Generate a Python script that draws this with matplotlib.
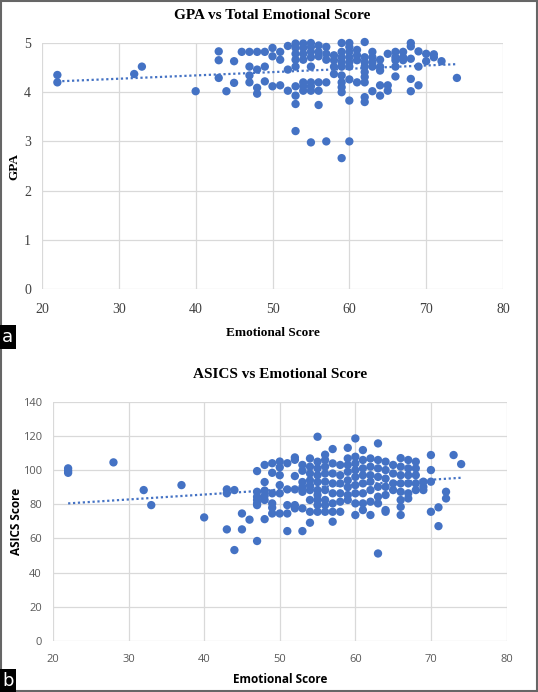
import numpy as np
import matplotlib.pyplot as plt
from matplotlib.patches import Rectangle

# --- Panel a: GPA vs Total Emotional Score ---
gpa_x = [22, 22, 32, 33, 40,
         43, 43, 43, 44, 45, 45, 46,
         47, 47, 47, 47, 48, 48, 48, 48,
         49, 49, 49, 50, 50, 50, 51, 51, 51, 52, 52, 52,
         53, 53, 53, 53, 53, 53, 53, 53, 53,
         54, 54, 54, 54, 54, 54, 54,
         55, 55, 55, 55, 55, 55, 55, 55, 55,
         56, 56, 56, 56, 56, 56,
         57, 57, 57, 57, 57,
         58, 58, 58, 58,
         59, 59, 59, 59, 59, 59, 59, 59, 59, 59,
         60, 60, 60, 60, 60, 60, 60, 60, 60,
         61, 61, 61, 61,
         62, 62, 62, 62, 62, 62, 62, 62, 62,
         63, 63, 63, 63, 63,
         64, 64, 64, 64, 64,
         65, 65, 65,
         66, 66, 66, 66, 66,
         67, 67, 67,
         68, 68, 68, 68, 68,
         69, 69, 69, 70, 70, 71, 71, 72, 74]
gpa_y = [4.35, 4.20, 4.37, 4.52, 4.02,
         4.83, 4.65, 4.29, 4.02, 4.63, 4.19, 4.82,
         4.82, 4.52, 4.34, 4.20, 4.82, 4.46, 4.09, 3.97,
         4.82, 4.52, 4.22, 4.90, 4.73, 4.12, 4.82, 4.66, 4.14, 4.94, 4.46, 4.03,
         4.99, 4.90, 4.78, 4.66, 4.52, 4.12, 3.93, 3.76, 3.21,
         4.99, 4.90, 4.78, 4.66, 4.20, 4.12, 4.03,
         5.00, 4.92, 4.82, 4.71, 4.52, 4.20, 4.12, 4.03, 2.98,
         4.95, 4.82, 4.73, 4.20, 4.03, 3.74,
         4.92, 4.78, 4.66, 4.20, 3.00,
         4.75, 4.65, 4.52, 4.37,
         5.00, 4.82, 4.71, 4.61, 4.52, 4.34, 4.20, 4.10, 4.00, 2.66,
         5.00, 4.92, 4.82, 4.71, 4.61, 4.52, 4.26, 3.83, 3.00,
         4.86, 4.75, 4.65, 4.20,
         5.02, 4.71, 4.61, 4.52, 4.41, 4.31, 4.20, 3.90, 3.80,
         4.82, 4.71, 4.61, 4.52, 4.02,
         4.66, 4.52, 4.44, 4.14, 3.93,
         4.78, 4.14, 4.03,
         4.82, 4.71, 4.65, 4.52, 4.32,
         4.82, 4.71, 4.65,
         5.00, 4.93, 4.68, 4.27, 4.02,
         4.83, 4.52, 4.14, 4.78, 4.63, 4.77, 4.71, 4.63, 4.29]
# linear trendline ends as shown in the chart
gpa_trend_x = [22, 74]
gpa_trend_y = [4.22, 4.57]

# --- Panel b: ASICS vs Emotional Score ---
asics_x = [22, 22, 22, 28, 32, 33, 37, 40,
           43, 43, 43, 44, 44, 45, 45, 46,
           47, 47, 47, 47, 47, 47, 47,
           48, 48, 48, 48, 48, 48,
           49, 49, 49, 49, 49, 49,
           50, 50, 50, 50, 50, 50,
           51, 51, 51, 51, 51,
           52, 52, 52, 52, 52, 52,
           53, 53, 53, 53, 53, 53, 53,
           54, 54, 54, 54, 54, 54, 54, 54, 54,
           55, 55, 55, 55, 55, 55, 55, 55, 55, 55,
           56, 56, 56, 56, 56, 56, 56, 56, 56,
           57, 57, 57, 57, 57, 57, 57, 57,
           58, 58, 58, 58, 58, 58,
           59, 59, 59, 59, 59, 59, 59, 59,
           60, 60, 60, 60, 60, 60, 60, 60, 60,
           61, 61, 61, 61, 61, 61, 61, 61,
           62, 62, 62, 62, 62, 62, 62,
           63, 63, 63, 63, 63, 63, 63, 63,
           64, 64, 64, 64, 64, 64, 64,
           65, 65, 65, 65,
           66, 66, 66, 66, 66, 66, 66, 66,
           67, 67, 67, 67, 67, 67,
           68, 68, 68, 68, 68,
           69, 69, 69,
           70, 70, 70, 70,
           71, 71, 72, 72, 73, 74]
asics_y = [101, 99.6, 98.4, 104.5, 88.3, 79.5, 91.2, 72.3,
           88.7, 86.4, 65.3, 88.3, 53.2, 74.6, 65.3, 71,
           99.4, 87.3, 84.4, 82.5, 80.5, 79.5, 58.5,
           103, 93, 88, 82.5, 71.3, 85,
           104, 98.4, 86.4, 80.5, 74.6, 78,
           105, 101.6, 97, 91.2, 86.4, 74.6,
           104, 88.7, 79.5, 74.6, 64.3,
           106, 107.4, 96.5, 88.7, 79.5, 77.6,
           103, 99.6, 93, 90, 87.3, 77.6, 64.3,
           106.8, 102, 98, 94, 91, 88.3, 82.5, 75.6, 69.2,
           119.5, 104.9, 101, 97, 93, 88.3, 85.4, 82.5, 79.5, 75.6,
           109, 105.9, 102, 98, 93.2, 88.3, 82.5, 79.5, 75.6,
           112.3, 103.9, 98, 92.2, 86.4, 80.5, 75.6, 69.8,
           103, 97, 92.2, 86.4, 81.5, 75.6,
           113, 106.8, 103, 99, 94, 90, 85.4, 82.5,
           118.5, 107.8, 103.9, 100, 96, 91.2, 86.4, 80.5, 73.7,
           111.7, 105.9, 101, 97, 92.2, 86.4, 80.5, 76.6,
           106.8, 102, 97, 93.2, 88.3, 81.5, 73.7,
           115.6, 105.9, 101, 96, 90.2, 84.4, 80.5, 51.2,
           104.9, 100, 95, 90.2, 85.4, 76.6, 75.6,
           103, 98, 92.2, 88.3,
           107, 102, 97, 92.2, 87.3, 82.5, 78.5, 73.7,
           105.9, 101, 97, 92.2, 86.4, 83.4,
           104.9, 101, 97, 92.2, 88.3,
           93.2, 90.2, 88.3,
           108.8, 100, 93.2, 75.6,
           78.2, 67.2, 87.3, 83.4, 108.8, 103.5]
asics_trend_x = [22, 74]
asics_trend_y = [80.5, 95.5]

x_ticks = [20, 30, 40, 50, 60, 70, 80]
gpa_ticks = [0, 1, 2, 3, 4, 5]
asics_ticks = [0, 20, 40, 60, 80, 100, 120, 140]

blue = '#4472C4'
grid_col = '#d9d9d9'
serif = 'Liberation Serif'
sans = 'Open Sans'

fig = plt.figure(figsize=(5.38, 6.92), dpi=100)


def style_axes(ax):
    for s in ax.spines.values():
        s.set_visible(False)
    ax.grid(True, color=grid_col, linewidth=0.9)
    ax.set_axisbelow(True)
    ax.tick_params(length=0)


# ---- a ----
ax1 = fig.add_axes([42 / 538, 1 - 289 / 692, 461 / 538, 246 / 692])
style_axes(ax1)
ax1.tick_params(axis='x', pad=10)
ax1.tick_params(axis='y', pad=8)
ax1.scatter(gpa_x, gpa_y, s=36, color=blue, edgecolors='none', zorder=3, clip_on=False)
ax1.plot(gpa_trend_x, gpa_trend_y, linestyle=(0, (1, 1.2)), color=blue, linewidth=1.6)
ax1.set_xlim(20, 80)
ax1.set_ylim(0, 5)
ax1.set_xticks(x_ticks)
ax1.set_yticks(gpa_ticks)
for lab in ax1.get_xticklabels() + ax1.get_yticklabels():
    lab.set_fontfamily(serif)
    lab.set_fontsize(10)
    lab.set_color('#404040')
ax1.set_title('GPA vs Total Emotional Score', fontfamily=serif, fontweight='bold',
              fontsize=11, pad=17)
ax1.set_xlabel('Emotional Score', fontfamily=serif, fontweight='bold', fontsize=9.5, labelpad=8)
ax1.set_ylabel('GPA', fontfamily=serif, fontweight='bold', fontsize=9.5)
ax1.yaxis.set_label_coords(-0.046, 0.5)

# ---- b ----
ax2 = fig.add_axes([53 / 538, 1 - 641 / 692, 453.5 / 538, 239.3 / 692])
style_axes(ax2)
ax2.tick_params(axis='x', pad=9)
ax2.tick_params(axis='y', pad=8)
ax2.scatter(asics_x, asics_y, s=36, color=blue, edgecolors='none', zorder=3)
ax2.plot(asics_trend_x, asics_trend_y, linestyle=(0, (1, 1.2)), color=blue, linewidth=1.6)
ax2.set_xlim(20, 80)
ax2.set_ylim(0, 140)
ax2.set_xticks(x_ticks)
ax2.set_yticks(asics_ticks)
for lab in ax2.get_xticklabels() + ax2.get_yticklabels():
    lab.set_fontfamily(sans)
    lab.set_fontsize(8)
    lab.set_color('#595959')
ax2.set_title('ASICS vs Emotional Score', fontfamily=serif, fontweight='bold',
              fontsize=11, pad=17)
ax2.set_xlabel('Emotional Score', fontfamily=sans, fontweight='bold', fontsize=8.5, labelpad=6)
ax2.set_ylabel('ASICS Score', fontfamily=sans, fontweight='bold', fontsize=8.5)
ax2.yaxis.set_label_coords(-0.066, 0.5)

# panel letters and frame
fig.text(0.004, 1 - 346 / 692, 'a', color='white', fontsize=13, fontfamily='DejaVu Sans',
         va='bottom', ha='left',
         bbox=dict(boxstyle='square,pad=0.15', facecolor='black', edgecolor='none'))
fig.text(0.004, 0.003, 'b', color='white', fontsize=13, fontfamily='DejaVu Sans',
         va='bottom', ha='left',
         bbox=dict(boxstyle='square,pad=0.15', facecolor='black', edgecolor='none'))
fig.patches.append(Rectangle((0.001, 0.001), 0.998, 0.998, transform=fig.transFigure,
                             fill=False, edgecolor='#666666', linewidth=1.5))

fig.savefig('out.png', dpi=100)
